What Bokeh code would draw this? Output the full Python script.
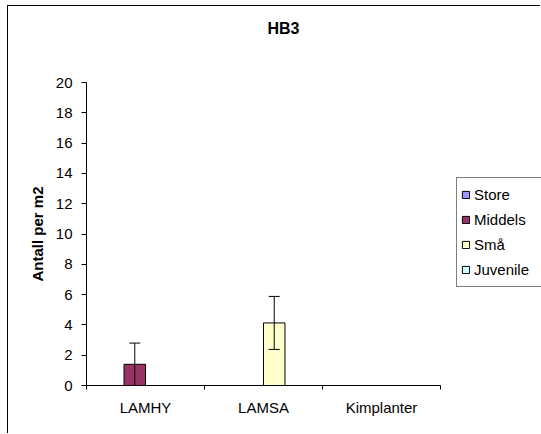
import math
from bokeh.plotting import figure
from bokeh.models import (ColumnDataSource, Range1d, FixedTicker,
                          Legend, LegendItem, Whisker, TeeHead, Title)
from bokeh.transform import dodge
from bokeh.embed import file_html
from bokeh.resources import INLINE

nan = float("nan")

# ---- data ----
categories = ["LAMHY", "LAMSA", "Kimplanter"]
series_names = ["Store", "Middels", "Små", "Juvenile"]
store = [nan, nan, nan]
middels = [1.4, nan, nan]
sma = [0.0, 4.13, nan]
juvenile = [nan, nan, nan]
store_err = [nan, nan, nan]
middels_err = [1.4, nan, nan]
sma_err = [nan, 1.75, nan]
juvenile_err = [nan, nan, nan]
y_ticks = [0, 2, 4, 6, 8, 10, 12, 14, 16, 18, 20]
colors = ["#9999FF", "#993366", "#FFFFCC", "#CCFFFF"]

FONT = "Liberation Sans"
n = len(categories)
centres = [i + 0.5 for i in range(n)]

# layout: the frame runs to the right edge so that the legend sits inside it;
# the category axis only covers AXIS_W pixels of the FRAME_W wide frame.
FIG_W, FIG_H = 533, 428
LEFT, TOP, BOTTOM = 78, 76, 49
FRAME_W = FIG_W - LEFT
AXIS_W = 354

p = figure(width=FIG_W, height=FIG_H,
           x_range=Range1d(0, n * FRAME_W / AXIS_W), y_range=Range1d(0, 20),
           output_backend="svg", toolbar_location=None,
           min_border_left=LEFT, min_border_right=0, min_border_top=TOP,
           min_border_bottom=BOTTOM)
p.styles = {"border-left": "1px solid black", "border-top": "1px solid black",
            "margin-left": "7px", "margin-top": "5px"}
p.outline_line_color = None
p.background_fill_color = "white"
p.border_fill_color = "white"
p.xgrid.visible = False
p.ygrid.visible = False
p.title.text = ""

# title: a spacer next to the frame, then the real title above it
spacer = Title(text=" ", text_font=FONT, text_font_size="1px", standoff=42)
p.add_layout(spacer, "above")
title = Title(text="HB3", align="left", offset=181, standoff=0, vertical_align="middle",
              text_font=FONT, text_font_size="16px", text_font_style="bold",
              text_color="black")
p.add_layout(title, "above")

# y axis
ya = p.yaxis[0]
ya.ticker = FixedTicker(ticks=y_ticks)
ya.axis_label = "Antall per m2"
ya.axis_label_text_font = FONT
ya.axis_label_text_font_size = "15px"
ya.axis_label_text_font_style = "bold"
ya.axis_label_text_color = "black"
ya.axis_label_standoff = 7
ya.major_label_text_font = FONT
ya.major_label_text_font_size = "15px"
ya.major_label_text_color = "black"
ya.major_label_standoff = 9
ya.major_tick_out = 5
ya.major_tick_in = 0
ya.minor_tick_out = 0
ya.minor_tick_in = 0
ya.axis_line_color = "black"
ya.major_tick_line_color = "black"

# x axis: labels at category centres, ticks at category boundaries
xa = p.xaxis[0]
xa.bounds = (0, n)
xa.ticker = FixedTicker(ticks=centres, minor_ticks=[float(i) for i in range(n + 1)])
xa.major_label_overrides = {c: lab for c, lab in zip(centres, categories)}
xa.major_tick_out = 0
xa.major_tick_in = 0
xa.minor_tick_out = 4
xa.minor_tick_in = 0
xa.minor_tick_line_color = "black"
xa.axis_line_color = "black"
xa.major_label_standoff = 9
xa.major_label_text_font = FONT
xa.major_label_text_font_size = "15px"
xa.major_label_text_color = "black"

# bars
values = [store, middels, sma, juvenile]
errors = [store_err, middels_err, sma_err, juvenile_err]
w = 1 / 5.5
offsets = [-1.5 * w, -0.5 * w, 0.5 * w, 1.5 * w]
src = ColumnDataSource(dict(pos=centres, s0=store, s1=middels, s2=sma, s3=juvenile))

renderers = []
for k in range(4):
    r = p.vbar(x=dodge("pos", offsets[k]), top="s%d" % k, width=w,
               source=src, fill_color=colors[k], line_color="black", line_width=1)
    renderers.append(r)

# error bars
for k in range(4):
    rows = [i for i in range(n) if not math.isnan(errors[k][i])]
    if not rows:
        continue
    esrc = ColumnDataSource(dict(
        pos=[centres[i] for i in rows],
        upper=[values[k][i] + errors[k][i] for i in rows],
        lower=[values[k][i] - errors[k][i] for i in rows]))
    wh = Whisker(source=esrc, base=dodge("pos", offsets[k]),
                 upper="upper", lower="lower", line_color="black", line_width=1,
                 level="overlay",
                 upper_head=TeeHead(size=11, line_color="black", line_width=1),
                 lower_head=TeeHead(size=11, line_color="black", line_width=1))
    p.add_layout(wh)

legend = Legend(items=[LegendItem(label=series_names[k], renderers=[renderers[k]]) for k in range(4)],
                location=(370, 98), orientation="vertical", padding=4, spacing=0,
                label_height=25, glyph_width=9, glyph_height=9, label_standoff=4,
                label_width=63, border_line_color="black", border_line_width=1,
                background_fill_color="white", background_fill_alpha=1.0,
                label_text_font=FONT, label_text_font_size="15px", label_text_color="black",
                margin=0)
p.add_layout(legend)

with open("out.html", "w") as f:
    f.write(file_html(p, INLINE))
